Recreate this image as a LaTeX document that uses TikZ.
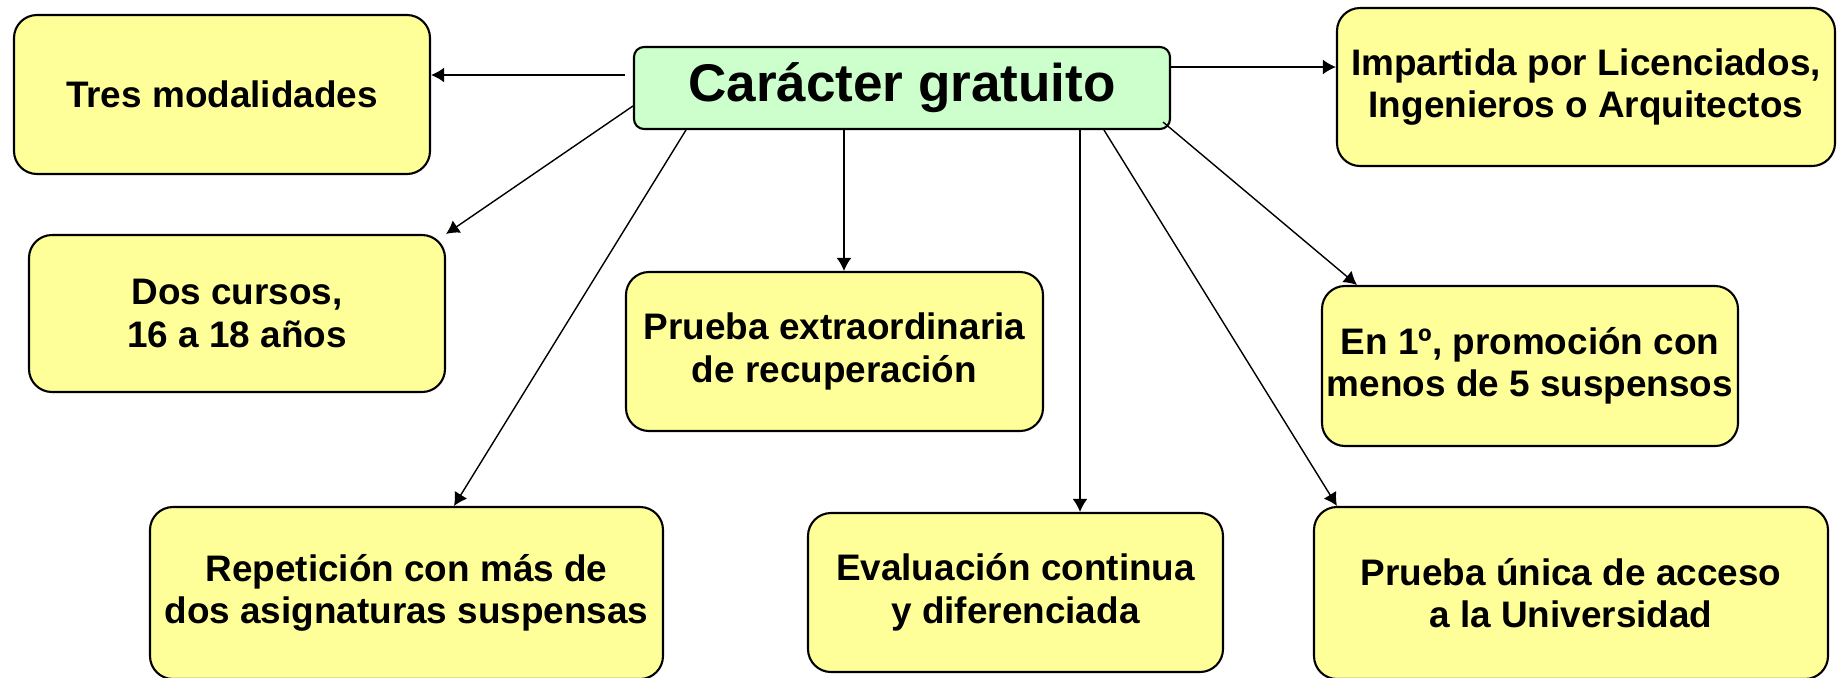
\documentclass[tikz,border=0pt]{standalone}
\usepackage{fontspec}
\setmainfont{Liberation Sans}
\usepackage[usenames,dvipsnames,svgnames,table]{xcolor}
\usetikzlibrary{arrows.meta}
\definecolor{amarillo}{HTML}{FFFF99}
\definecolor{verdeclaro}{HTML}{CCFFCC}
\tikzset{
	caja/.style={draw, line width=0.6pt, fill=amarillo, rounded corners=0.23cm, align=center, inner sep=0pt,
		font=\bfseries\fontsize{10.5}{12.1}\selectfont},
	titulo/.style={draw, line width=0.6pt, fill=verdeclaro, rounded corners=0.1cm, align=center, inner sep=0pt,
		font=\bfseries\fontsize{15.1}{16}\selectfont},
	flecha/.style={-{Latex[length=3.7pt,width=4.2pt]}, line width=0.4pt}
}
\begin{document}
\begin{tikzpicture}
	\useasboundingbox (0,0) rectangle (18.41,6.77);
	
	\node[titulo, minimum width=5.36cm, minimum height=0.82cm] (gratuito) at (9.02,5.89) {Carácter gratuito};
	
	\node[caja, minimum width=4.16cm, minimum height=1.59cm] (tres) at (2.22,5.825) {Tres modalidades};
	\node[caja, minimum width=4.98cm, minimum height=1.58cm] (impartida) at (15.86,5.90) {Impartida por Licenciados,\\ Ingenieros o Arquitectos};
	\node[caja, minimum width=4.16cm, minimum height=1.57cm] (dos) at (2.37,3.635) {Dos cursos,\\ 16 a 18 años};
	\node[caja, minimum width=4.17cm, minimum height=1.59cm] (extra) at (8.345,3.255) {Prueba extraordinaria\\ de recuperación};
	\node[caja, minimum width=4.16cm, minimum height=1.60cm] (promo) at (15.30,3.11) {En 1º, promoción con\\ menos de 5 suspensos};
	\node[caja, minimum width=5.13cm, minimum height=1.72cm] (repeticion) at (4.065,0.84) {Repetición con más de\\ dos asignaturas suspensas};
	\node[caja, minimum width=4.15cm, minimum height=1.59cm] (evaluacion) at (10.155,0.845) {Evaluación continua\\ y diferenciada};
	\node[caja, minimum width=5.14cm, minimum height=1.72cm] (unica) at (15.71,0.84) {Prueba única de acceso\\ a la Universidad};
	
	\coordinate (g1) at ([xshift=-0.08cm,yshift=0.13cm]gratuito.west);
	\coordinate (g2) at ([xshift=-0.58cm]gratuito.south);
	\coordinate (g3) at ([xshift=1.78cm]gratuito.south);
	\coordinate (g4) at ([yshift=0.21cm]gratuito.east);
	
	\draw[flecha] (g1) -- (g1 -| tres.east);
	\draw[flecha] ([yshift=-0.18cm]gratuito.west) -- (dos.north east);
	\draw[flecha] ([xshift=0.53cm]gratuito.south west) -- ([xshift=0.475cm]repeticion.north);
	\draw[flecha] (g2) -- (g2 |- extra.north);
	\draw[flecha] (g3) -- (g3 |- evaluacion.north);
	\draw[flecha] ([xshift=2.02cm]gratuito.south) -- ([xshift=0.24cm]unica.north west);
	\draw[flecha] ([xshift=-0.08cm,yshift=0.08cm]gratuito.south east) -- ([xshift=0.36cm]promo.north west);
	\draw[flecha] (g4) -- (g4 -| impartida.west);
\end{tikzpicture}
\end{document}
